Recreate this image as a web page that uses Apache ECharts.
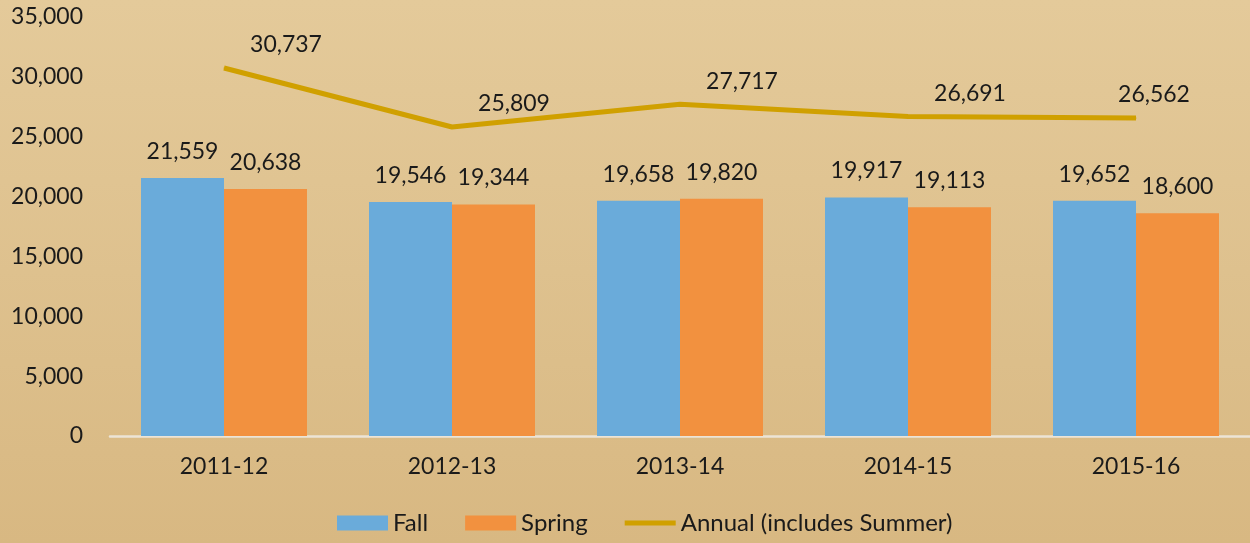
<!DOCTYPE html>
<html>
<head>
<meta charset="utf-8">
<script src="https://cdn.jsdelivr.net/npm/echarts@6/dist/echarts.min.js"></script>
<style>
  html, body { margin: 0; padding: 0; }
  #main {
    width: 1250px;
    height: 543px;
    background: linear-gradient(to bottom, #e4ca9a, #d8b882);
  }
</style>
</head>
<body>
<div id="main"></div>
<script>
const years = ["2011-12", "2012-13", "2013-14", "2014-15", "2015-16"];
const fall = [21559, 19546, 19658, 19917, 19652];
const spring = [20638, 19344, 19820, 19113, 18600];
const annual = [30737, 25809, 27717, 26691, 26562];

const chart = echarts.init(document.getElementById("main"));
const font = "Lato, 'Noto Sans', sans-serif";
const ink = "#1a1a1a";
const fmt = (p) => p.value.toLocaleString("en-US");

// last annual label sits closer to its point (would run off the edge otherwise)
const annualData = annual.map((v, i) =>
  i === annual.length - 1 ? { value: v, label: { offset: [18, 0] } } : v
);

const option = {
  backgroundColor: "transparent",
  textStyle: { fontFamily: font },
  grid: { left: 110, right: -4, top: 17, bottom: 107 },
  legend: {
    bottom: 3,
    left: 332,
    itemWidth: 51,
    itemHeight: 15,
    itemGap: 37,
    textStyle: { fontSize: 24, color: ink, fontFamily: font },
    data: [
      { name: "Fall", icon: "rect" },
      { name: "Spring", icon: "rect" },
      {
        name: "Annual (includes Summer)",
        icon: "path://M0,0L51,0M0,5L51,5L51,10L0,10ZM0,15L51,15",
        itemStyle: { color: "#d0a000", borderWidth: 0 },
      },
    ],
  },
  xAxis: {
    type: "category",
    data: years,
    axisLine: { lineStyle: { color: "#ece4d6", width: 2.5 } },
    axisTick: { show: false },
    axisLabel: { fontSize: 23, color: ink, margin: 19 },
  },
  yAxis: {
    type: "value",
    min: 0,
    max: 35000,
    interval: 5000,
    splitLine: { show: false },
    axisLine: { show: false },
    axisLabel: {
      fontSize: 23,
      color: ink,
      margin: 27,
      formatter: (v) => v.toLocaleString("en-US"),
    },
  },
  series: [
    {
      name: "Fall",
      type: "bar",
      data: fall,
      barWidth: 83,
      barGap: "0%",
      itemStyle: { color: "#6aabda" },
      label: { show: true, position: "top", distance: 15, fontSize: 23, color: ink, formatter: fmt },
    },
    {
      name: "Spring",
      type: "bar",
      data: spring,
      barWidth: 83,
      barGap: "0%",
      itemStyle: { color: "#f2913f" },
      label: { show: true, position: "top", distance: 15, fontSize: 23, color: ink, formatter: fmt },
    },
    {
      name: "Annual (includes Summer)",
      type: "line",
      data: annualData,
      symbol: "circle",
      symbolSize: 1,
      showSymbol: true,
      lineStyle: { color: "#d0a000", width: 5 },
      itemStyle: { color: "#d0a000" },
      label: {
        show: true,
        position: "top",
        distance: 11,
        offset: [62, 0],
        fontSize: 23,
        color: ink,
        formatter: fmt,
      },
    },
  ],
};

chart.setOption(option);
</script>
</body>
</html>
